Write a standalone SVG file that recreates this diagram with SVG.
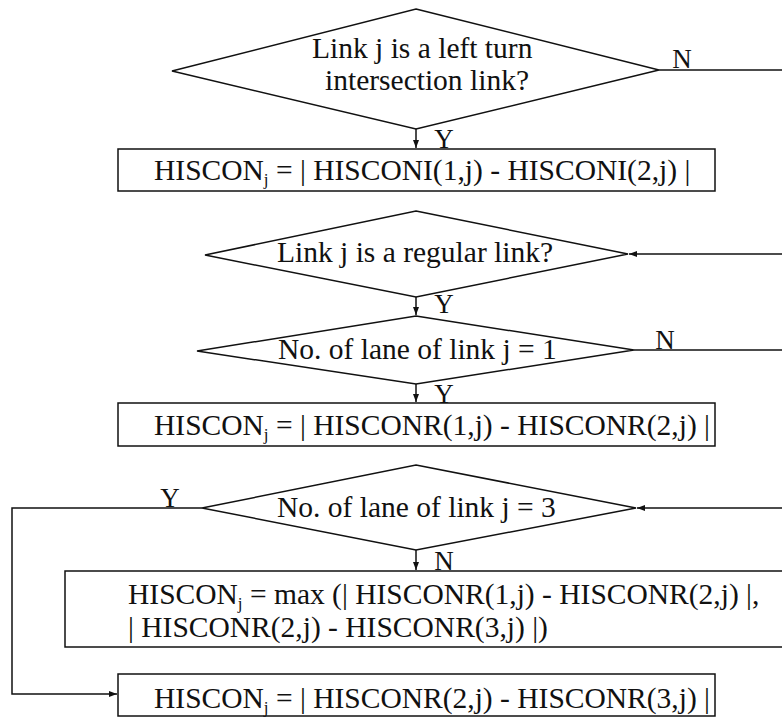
<svg xmlns="http://www.w3.org/2000/svg" width="782" height="717" viewBox="0 0 782 717">
<style>
.shape{fill:#fff;stroke:#111;stroke-width:1.5}
.conn{fill:none;stroke:#111;stroke-width:1.5}
text{font-family:"Liberation Serif","Times New Roman",serif;fill:#111}
.t{font-size:29.5px}
.lbl{font-size:27px}
.sub{font-size:17px}
</style>
<defs>
<marker id="arr" markerUnits="userSpaceOnUse" markerWidth="9" markerHeight="7" refX="8" refY="3" orient="auto">
<path d="M0,0 L8,3 L0,6 z" fill="#111"/>
</marker>
</defs>
<rect width="782" height="717" fill="#fff"/>
<g id="connectors">
<line class="conn" x1="416" y1="129" x2="416" y2="148" marker-end="url(#arr)"/>
<line class="conn" x1="659" y1="70" x2="782" y2="70"/>
<line class="conn" x1="782" y1="254" x2="629" y2="254" marker-end="url(#arr)"/>
<line class="conn" x1="416" y1="297" x2="416" y2="315" marker-end="url(#arr)"/>
<line class="conn" x1="634" y1="350" x2="782" y2="350"/>
<line class="conn" x1="416" y1="384" x2="416" y2="402" marker-end="url(#arr)"/>
<line class="conn" x1="782" y1="508" x2="637" y2="508" marker-end="url(#arr)"/>
<line class="conn" x1="416" y1="550" x2="416" y2="570" marker-end="url(#arr)"/>
<polyline class="conn" points="202,508 12,508 12,694 117,694" marker-end="url(#arr)"/>
<text class="lbl" x="682" y="68" text-anchor="middle">N</text>
<text class="lbl" x="444" y="148" text-anchor="middle">Y</text>
<text class="lbl" x="444" y="313" text-anchor="middle">Y</text>
<text class="lbl" x="665" y="349" text-anchor="middle">N</text>
<text class="lbl" x="444" y="403" text-anchor="middle">Y</text>
<text class="lbl" x="170" y="507" text-anchor="middle">Y</text>
<text class="lbl" x="444" y="570" text-anchor="middle">N</text>
</g>
<g id="d1">
<polygon class="shape" points="416,9 659,70 416,129 172,71"/>
<text class="t" x="312" y="58">Link j is a left turn</text>
<text class="t" x="325" y="90">intersection link?</text>
</g>
<g id="b1">
<rect class="shape" x="118" y="149" width="597" height="42"/>
<text class="t" x="154" y="180">HISCON<tspan class="sub" dy="5">j</tspan><tspan dy="-5"> = | HISCONI(1,j) - HISCONI(2,j) |</tspan></text>
</g>
<g id="d2">
<polygon class="shape" points="416,211 628,254 416,297 205,255"/>
<text class="t" x="277" y="262">Link j is a regular link?</text>
</g>
<g id="d3">
<polygon class="shape" points="416,316 634,350 416,384 197,351"/>
<text class="t" x="278" y="359">No. of lane of link j = 1</text>
</g>
<g id="b2">
<rect class="shape" x="118" y="403" width="597" height="43"/>
<text class="t" x="154" y="435">HISCON<tspan class="sub" dy="5">j</tspan><tspan dy="-5"> = | HISCONR(1,j) - HISCONR(2,j) |</tspan></text>
</g>
<g id="d4">
<polygon class="shape" points="416,465 636,508 416,550 202,508"/>
<text class="t" x="277" y="517">No. of lane of link j = 3</text>
</g>
<g id="b3">
<rect class="shape" x="65" y="571" width="740" height="76"/>
<text class="t" x="128" y="604">HISCON<tspan class="sub" dy="5">j</tspan><tspan dy="-5"> = max (| HISCONR(1,j) - HISCONR(2,j) |,</tspan></text>
<text class="t" x="128" y="637">| HISCONR(2,j) - HISCONR(3,j) |)</text>
</g>
<g id="b4">
<rect class="shape" x="118" y="674" width="597" height="42"/>
<text class="t" x="154" y="708">HISCON<tspan class="sub" dy="5">j</tspan><tspan dy="-5"> = | HISCONR(2,j) - HISCONR(3,j) |</tspan></text>
</g>
</svg>
